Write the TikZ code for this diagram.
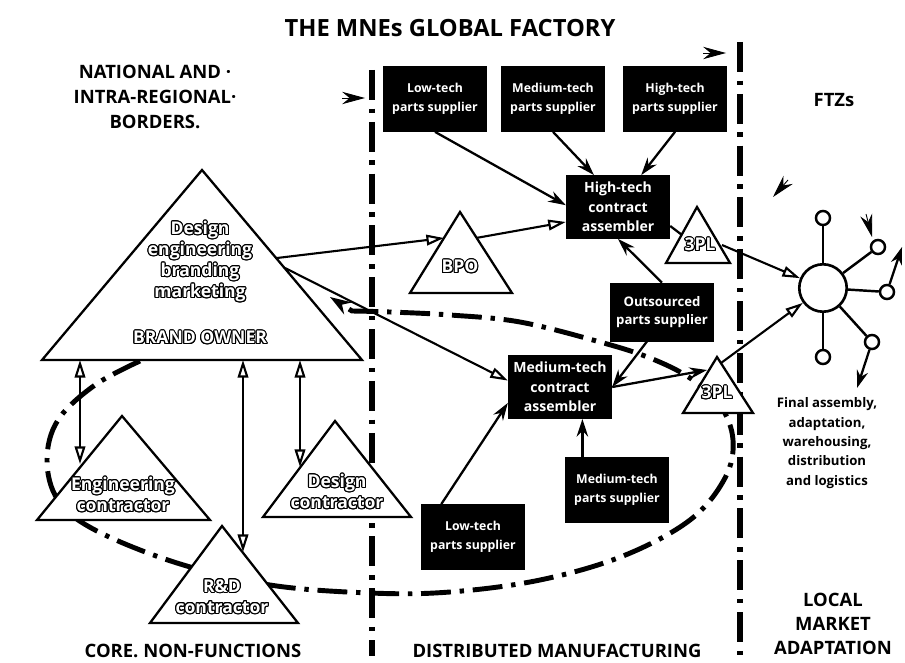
\documentclass[tikz,border=0pt]{standalone}
\usepackage{fontspec}
\setmainfont{Open Sans}
\usepackage{contour}
\contourlength{0.6pt}
\usetikzlibrary{arrows.meta}
\newcommand\olt[1]{\contour{black}{\textcolor{white}{#1}}}

\begin{document}
\begin{tikzpicture}[x=0.02cm,y=-0.02cm,
  supplier/.style={draw,fill=black,text=white,font=\bfseries\fontsize{7}{10.5}\selectfont,align=center,minimum width=59pt,minimum height=37pt,inner sep=1pt},
  assembler/.style={supplier,font=\bfseries\fontsize{8}{11}\selectfont,minimum height=36pt},
  tri/.style={draw,fill=white,line width=1.3pt,line join=miter},
  trilbl/.style={font=\bfseries\fontsize{10}{12}\selectfont,align=center,inner sep=0pt},
  caps/.style={font=\bfseries\fontsize{10.5}{14}\selectfont,align=center},
  oarr/.style={draw,line width=1.2pt,-{Triangle[open,length=10pt,width=6pt]}},
  darr/.style={oarr,{Triangle[open,length=10pt,width=6pt]}-{Triangle[open,length=10pt,width=6pt]}},
  farr/.style={draw,line width=1.3pt,-{Stealth[length=10pt,width=6.5pt]}},
  ptr/.style={draw,line width=0.5pt,-{Stealth[length=13pt,width=7pt]}},
  border/.style={line width=3pt,dash pattern=on 17pt off 5pt on 2.5pt off 5pt},
  spoke/.style={line width=1.4pt},
  ring/.style={draw,circle,line width=1.4pt,fill=white,minimum size=8pt,inner sep=0pt}]

\path[fill=white] (0,0) rectangle (905,662);
\useasboundingbox (0,0) rectangle (905,662);

% borders
\coordinate (b1t) at (372,70);  \coordinate (b1b) at (372,656);
\coordinate (b2t) at (740,42);  \coordinate (b2b) at (740,656);
\draw[border] (b1t) -- (b1b);
\draw[border] (b2t) -- (b2b);

% the loop round the factory
\coordinate (looptip) at (330,297);
\draw[border,line width=2.8pt,-{Stealth[length=12pt,width=8pt]}]
  plot[smooth,tension=0.6] coordinates {(140,361) (95,385) (58,420) (47,460) (58,500) (95,530)
  (177,563) (270,585) (370,593) (450,592) (540,580) (623,556) (690,520) (725,478) (733,440)
  (720,405) (690,378) (650,358) (600,342) (520,322) (450,315) (390,312) (352,311)} -- (looptip);

% triangles
\draw[tri] (202,170) -- (42,360) -- (362,360) -- cycle;
\draw[tri] (122,416) -- (37,520) -- (210,520) -- cycle;
\draw[tri] (335,421) -- (263,517) -- (411,517) -- cycle;
\draw[tri] (222,526) -- (150,623) -- (298,623) -- cycle;
\draw[tri] (460,212) -- (410,293) -- (512,293) -- cycle;
\draw[tri] (697,207) -- (666,263) -- (730,263) -- cycle;
\draw[tri] (717,357) -- (683,413) -- (753,413) -- cycle;

\node[trilbl] (bo-txt) at (200,262) {\olt{Design}\\\olt{engineering}\\\olt{branding}\\\olt{marketing}};
\node[trilbl] (bo-name) at (200,338) {\olt{BRAND OWNER}};
\node[trilbl] (eng) at (123,495) {\olt{Engineering}\\\olt{contractor}};
\node[trilbl] (des) at (337,492) {\olt{Design}\\\olt{contractor}};
\node[trilbl] (rd) at (222,597) {\olt{R\&D}\\\olt{contractor}};
\node[trilbl] (bpo) at (460,267) {\olt{BPO}};
\node[trilbl] (tpl1) at (700,245) {\olt{3PL}};
\node[trilbl] (tpl2) at (717,393) {\olt{3PL}};

% boxes
\node[supplier] (lowtop) at (435,99) {Low-tech\\parts supplier};
\node[supplier] (medtop) at (553,99) {Medium-tech\\parts supplier};
\node[supplier] (hightop) at (675,99) {High-tech\\parts supplier};
\node[assembler] (hca) at (618,207) {High-tech\\contract\\assembler};
\node[supplier,font=\bfseries\fontsize{7.5}{10.5}\selectfont,minimum height=33pt] (outs) at (662,312) {Outsourced\\parts supplier};
\node[assembler] (mca) at (560,387) {Medium-tech\\contract\\assembler};
\node[supplier] (medbot) at (617,490) {Medium-tech\\parts supplier};
\node[supplier] (lowbot) at (473,537) {Low-tech\\parts supplier};

% hub
\node[draw,circle,line width=1.5pt,minimum size=27pt,inner sep=0pt] (hub) at (823,288) {};
\node[ring] (r1) at (823,218) {};
\node[ring] (r2) at (878,247) {};
\node[ring] (r3) at (887,292) {};
\node[ring] (r4) at (872,342) {};
\node[ring] (r5) at (823,357) {};
\foreach \r in {r1,r2,r3,r4,r5} \draw[spoke] (hub) -- (\r);
\coordinate (out1) at (902,247);
\coordinate (out2) at (857,388);
\draw[farr] (r3) -- (out1);
\draw[farr] (r4) -- (out2);

% open arrows
\coordinate (bo-r1) at (277,258);  \coordinate (bpo-l) at (444,238);
\coordinate (bpo-r) at (476,238);  \coordinate (bo-r2) at (285,268);
\draw[oarr] (bo-r1) -- (bpo-l);
\draw[oarr] (bpo-r) -- (hca.196);
\draw[oarr] (bo-r2) -- (mca.173);
\coordinate (bo-b1) at (80,360);   \coordinate (eng-l) at (80,464);
\coordinate (bo-b2) at (243,360);  \coordinate (rd-r) at (243,552);
\coordinate (bo-b3) at (300,360);  \coordinate (des-l) at (300,467);
\draw[darr] (bo-b1) -- (eng-l);
\draw[darr] (bo-b2) -- (rd-r);
\draw[darr] (bo-b3) -- (des-l);
\coordinate (tpl1-r) at (722,245);  \coordinate (tpl2-r) at (721,363);
\draw[oarr] (tpl1-r) -- (hub);
\draw[oarr] (tpl2-r) -- (hub);

% filled arrows
\draw[farr] (lowtop.south) -- (hca.178);
\draw[farr] (medtop.south) -- (hca.127);
\draw[farr] (hightop.south) -- (hca.54);
\draw[farr] (outs.north) -- (hca.south);
\draw[farr] (outs.-117) -- (mca.east);
\draw[farr] (medbot.north -| mca.-55) -- (mca.-55);
\draw[farr] (lowbot.134) -- (mca.197);
\coordinate (tpl2-l) at (707,370);  \coordinate (tpl1-l) at (682,235);
\draw[farr] (mca.east) -- (tpl2-l);
\draw[line width=1.3pt] (hca.-20) -- (tpl1-l);

% pointers
\coordinate (p1s) at (342,98);  \coordinate (p1) at (365,98);
\coordinate (p2s) at (703,53);  \coordinate (p2) at (726,53);
\coordinate (p3s) at (788,180); \coordinate (p3) at (773,197);
\coordinate (p4s) at (866,214); \coordinate (p4) at (872,237);
\draw[ptr] (p1s) -- (p1);
\draw[ptr] (p2s) -- (p2);
\draw[ptr] (p3s) -- (p3);
\draw[ptr] (p4s) -- (p4);

% texts
\node[caps,font=\bfseries\fontsize{13.5}{15}\selectfont] (title) at (450,28) {THE MNEs GLOBAL FACTORY};
\node[caps] (borders) at (155,97) {NATIONAL AND ·\\INTRA-REGIONAL·\\BORDERS.};
\node[caps] (ftz) at (834,100) {FTZs};
\node[caps] (core) at (193,651) {CORE. NON-FUNCTIONS};
\node[caps] (dist) at (557,651) {DISTRIBUTED MANUFACTURING};
\node[caps,font=\bfseries\fontsize{10.5}{13.5}\selectfont] (local) at (833,624) {LOCAL\\MARKET\\ADAPTATION};
\node[font=\bfseries\fontsize{7.5}{11}\selectfont,align=center] (final) at (827,443) {Final assembly,\\adaptation,\\warehousing,\\distribution\\and logistics};
\end{tikzpicture}
\end{document}
